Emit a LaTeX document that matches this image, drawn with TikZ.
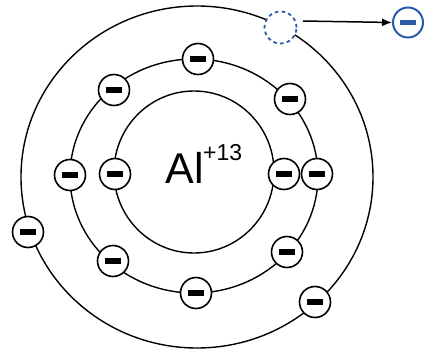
\documentclass[tikz,border=0pt]{standalone}
\usepackage{fontspec}
\setmainfont{Liberation Sans}
\usetikzlibrary{arrows.meta}
\definecolor{eblue}{HTML}{2B5BA8}
\begin{document}
\begin{tikzpicture}[x=1pt,y=-1pt,
  ring/.style={draw=black,line width=1.4pt},
  electron/.style={circle,draw=black,line width=1.6pt,fill=white,minimum size=31pt,inner sep=0pt,
    path picture={\fill[black] ([xshift=-7.8pt,yshift=-2.8pt]path picture bounding box.center) rectangle ([xshift=7.8pt,yshift=2.8pt]path picture bounding box.center);}},
  lost/.style={circle,draw=eblue,line width=1.8pt,dash pattern=on 3.6pt off 3.2pt,minimum size=32pt,inner sep=0pt},
  freee/.style={circle,draw=eblue,line width=2pt,fill=white,minimum size=30pt,inner sep=0pt,
    path picture={\fill[eblue] ([xshift=-7.8pt,yshift=-2.8pt]path picture bounding box.center) rectangle ([xshift=7.8pt,yshift=2.8pt]path picture bounding box.center);}}
]
\useasboundingbox (0,0) rectangle (424,351);
\draw[ring] (197,177) ellipse [x radius=176, y radius=171];
\draw[ring] (194,176) ellipse [x radius=124, y radius=117];
\draw[ring] (194,172) ellipse [x radius=80, y radius=81];
\node[font=\fontsize{43}{43}\selectfont,anchor=base] (al) at (185,183) {Al};
\node[font=\fontsize{23}{23}\selectfont,anchor=base west,inner sep=0pt] (charge) at (203,160) {+13};
% middle ring
\node[electron] (m1) at (198,59) {};
\node[electron] (m2) at (114,90) {};
\node[electron] (m3) at (290,99) {};
\node[electron] (m4) at (70,175) {};
\node[electron] (m5) at (317,174) {};
\node[electron] (m6) at (113,261) {};
\node[electron] (m7) at (287,252) {};
\node[electron] (m8) at (196,293) {};
% inner ring
\node[electron] (i1) at (115,174) {};
\node[electron] (i2) at (284,174) {};
% outer ring
\node[electron] (o1) at (28,232) {};
\node[electron] (o2) at (315,302) {};
\node[lost,fill=white] (lost) at (280.5,27.5) {};
\node[freee] (free) at (408,22.5) {};
\draw[line width=1.5pt,-{Latex[length=10pt,width=8pt]}] (303,21) -- (free.west);
\end{tikzpicture}
\end{document}
